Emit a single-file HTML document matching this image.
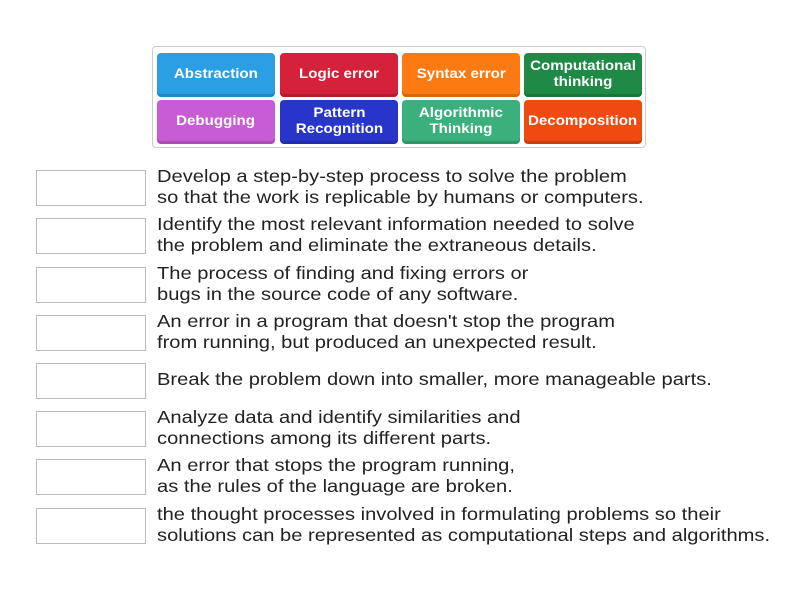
<!DOCTYPE html>
<html><head><style>
body{margin:0;width:800px;height:600px;background:#fff;font-family:"Liberation Sans",sans-serif;position:relative;overflow:hidden}
.cont{position:absolute;left:152px;top:46px;width:494px;height:102px;border:1px solid #ccc;border-radius:4px;box-sizing:border-box}
.t{position:absolute;width:118px;height:44px;box-sizing:border-box;padding-bottom:5px;border-radius:4px;color:#fff;font-weight:bold;font-size:14px;line-height:16px;display:flex;align-items:center;justify-content:center;text-align:center;box-shadow:inset 0 -3px 0 rgba(0,0,0,.15)}
.t span{display:inline-block;transform:scaleX(1.08)}
.b{position:absolute;left:36px;width:110px;height:36px;border:1px solid #bbb;box-sizing:border-box;background:#fff}
.q{position:absolute;left:157px;font-size:17.5px;line-height:21px;color:#222;transform:scaleX(1.15);transform-origin:0 0;white-space:nowrap}
</style></head><body>
<div class="cont"></div>
<div class="t" style="left:157px;top:53px;background:#2b9fe3"><span>Abstraction</span></div>
<div class="t" style="left:280px;top:53px;background:#d3223a"><span>Logic error</span></div>
<div class="t" style="left:402px;top:53px;background:#fb7a12"><span>Syntax error</span></div>
<div class="t" style="left:524px;top:53px;background:#1f8a45"><span>Computational<br>thinking</span></div>
<div class="t" style="left:157px;top:100px;background:#c75cd5"><span>Debugging</span></div>
<div class="t" style="left:280px;top:100px;background:#2736c8"><span>Pattern<br>Recognition</span></div>
<div class="t" style="left:402px;top:100px;background:#3bb07c"><span>Algorithmic<br>Thinking</span></div>
<div class="t" style="left:524px;top:100px;background:#ee4a12"><span>Decomposition</span></div>

<div class="b" style="top:170px"></div><div class="q" style="top:166px">Develop a step-by-step process to solve the problem<br>so that the work is replicable by humans or computers.</div>
<div class="b" style="top:218px"></div><div class="q" style="top:214px">Identify the most relevant information needed to solve<br>the problem and eliminate the extraneous details.</div>
<div class="b" style="top:267px"></div><div class="q" style="top:263px">The process of finding and fixing errors or<br>bugs in the source code of any software.</div>
<div class="b" style="top:315px"></div><div class="q" style="top:311px">An error in a program that doesn't stop the program<br>from running, but produced an unexpected result.</div>
<div class="b" style="top:363px"></div><div class="q" style="top:369px">Break the problem down into smaller, more manageable parts.</div>
<div class="b" style="top:411px"></div><div class="q" style="top:407px">Analyze data and identify similarities and<br>connections among its different parts.</div>
<div class="b" style="top:459px"></div><div class="q" style="top:455px">An error that stops the program running,<br>as the rules of the language are broken.</div>
<div class="b" style="top:508px"></div><div class="q" style="top:504px">the thought processes involved in formulating problems so their<br>solutions can be represented as computational steps and algorithms.</div>
</body></html>
